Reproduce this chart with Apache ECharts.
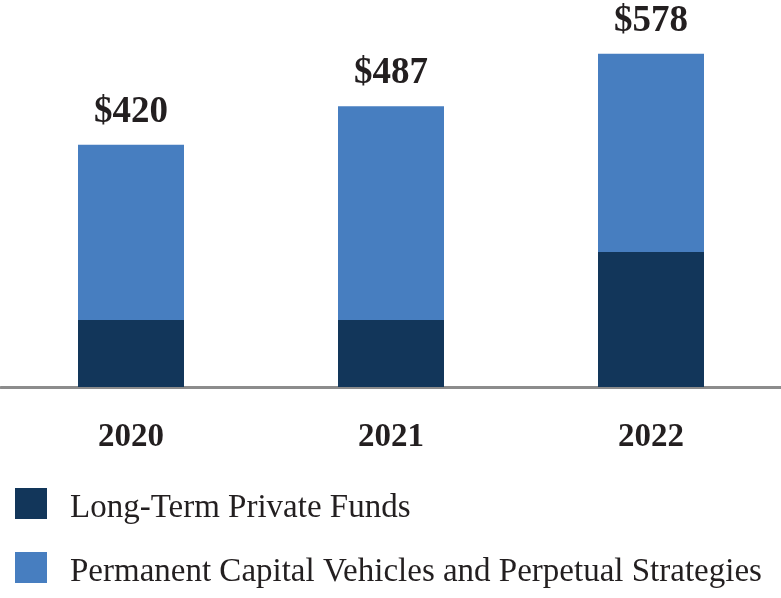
<!DOCTYPE html>
<html>
<head>
<meta charset="utf-8">
<script src="https://cdn.jsdelivr.net/npm/echarts@6/dist/echarts.min.js"></script>
<style>html,body{margin:0;padding:0;background:#fff;}#c{width:781px;height:598px;}</style>
</head>
<body>
<div id="c"></div>
<script>
const categories = ['2020', '2021', '2022'];
const seriesNames = ['Long-Term Private Funds', 'Permanent Capital Vehicles and Perpetual Strategies'];
const longTermPrivateFunds = [116, 116, 234];
const permanentCapital = [304, 371, 344];
const totalLabels = ['$420', '$487', '$578'];

const chart = echarts.init(document.getElementById('c'), null, {renderer: 'canvas'});
const serif = '"Liberation Serif", "Times New Roman", serif';
function makeLegend(name, top) {
  return {
    orient: 'horizontal',
    left: 10,
    top: top,
    itemWidth: 32,
    itemHeight: 31,
    icon: 'rect',
    formatter: '{a|{name}}',
    textStyle: {
      fontFamily: serif, fontSize: 33, color: '#231f20', padding: [0, 0, 0, 18],
      rich: {a: {fontFamily: serif, fontSize: 33, color: '#231f20', padding: [10, 0, 0, 0]}}
    },
    data: [name]
  };
}
chart.setOption({
  animation: false,
  backgroundColor: '#ffffff',
  grid: {left: 1, right: 0, top: 41, bottom: 211, containLabel: false},
  legend: [makeLegend(seriesNames[0], 483), makeLegend(seriesNames[1], 547)],
  xAxis: {
    type: 'category',
    data: categories,
    axisLine: {lineStyle: {color: '#8c8c8c', width: 3}},
    axisTick: {show: false},
    axisLabel: {fontFamily: serif, fontWeight: 'bold', fontSize: 33, color: '#231f20', margin: 34}
  },
  yAxis: {
    type: 'value',
    min: 0,
    max: 600,
    show: false,
    splitLine: {show: false}
  },
  series: [
    {
      name: seriesNames[0],
      type: 'bar',
      stack: 'total',
      barWidth: 106,
      data: longTermPrivateFunds,
      itemStyle: {color: '#12365a'}
    },
    {
      name: seriesNames[1],
      type: 'bar',
      stack: 'total',
      barWidth: 106,
      data: permanentCapital,
      itemStyle: {color: '#477ec0'},
      label: {
        show: true,
        position: 'top',
        distance: 14,
        fontFamily: serif,
        fontWeight: 'bold',
        fontSize: 37,
        color: '#231f20',
        formatter: p => totalLabels[p.dataIndex]
      }
    }
  ]
});
</script>
</body>
</html>
